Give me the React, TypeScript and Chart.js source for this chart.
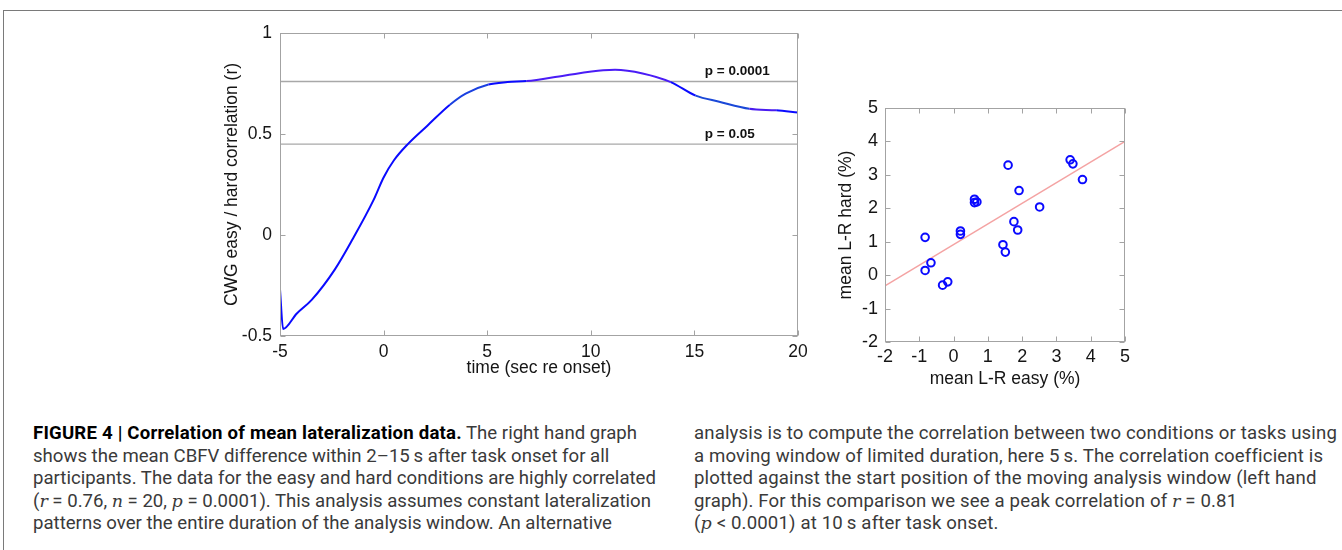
import React, { useEffect, useRef } from "react";
import { Chart, registerables } from "chart.js";

Chart.register(...registerables);

// Left graph: moving-window correlation between easy and hard conditions
const timeSec = [-5, -4.85, -4.2, -3.46, -2.35, -1.52, -0.5, 0, 0.5, 1.17, 2.1, 3.2, 3.96, 5.06, 5.98, 6.9, 8.76, 10.6, 11.17, 12.5, 13.86, 15.06, 16.2, 17.65, 18.95, 20];
const corrR = [-0.27, -0.465, -0.39, -0.32, -0.17, -0.025, 0.17, 0.285, 0.37, 0.45, 0.54, 0.645, 0.7, 0.745, 0.757, 0.762, 0.79, 0.815, 0.818, 0.8, 0.757, 0.69, 0.66, 0.625, 0.617, 0.607];
const timeTicks = [-5, 0, 5, 10, 15, 20];
const corrTicks = [-0.5, 0, 0.5, 1];
const thresholdR = [0.76, 0.45];
const thresholdLabels = ["p = 0.0001", "p = 0.05"];

// Right graph: mean L-R difference per participant, easy vs hard
const easyLR = [-0.83, -0.83, -0.66, -0.32, -0.17, 0.2, 0.2, 0.61, 0.61, 0.68, 1.44, 1.51, 1.59, 1.76, 1.87, 1.91, 2.51, 3.4, 3.48, 3.76];
const hardLR = [1.13, 0.14, 0.37, -0.3, -0.2, 1.32, 1.22, 2.27, 2.17, 2.19, 0.91, 0.69, 3.29, 1.6, 1.35, 2.53, 2.04, 3.45, 3.33, 2.86];
const fitEasy = [-2, 5];
const fitHard = [-0.32, 4.0];
const lrTicks = [-2, -1, 0, 1, 2, 3, 4, 5];

const AXIS_FONT = "'Liberation Sans', Arial, Helvetica, sans-serif";
const TEXT_COLOR = "#151515";

// The overlaid easy/hard traces blend into slightly tinted stretches of the blue line
function curveTint(ctx: any) {
  const x0 = ctx.p0.parsed.x;
  if (x0 >= 3.2 && x0 < 5.06) return "#1a40e0";
  if (x0 >= 6.9 && x0 < 13.86) return "#4a1cf6";
  if (x0 >= 15.06 && x0 < 17.65) return "#1a48d8";
  if (x0 >= 17.65 && x0 < 18.95) return "#4a1cf0";
  return undefined;
}

// MATLAB-style box around the plot area with inward tick marks on all four sides
const axesBox = {
  id: "axesBox",
  afterDatasetsDraw(chart: any) {
    const { ctx, chartArea: a, scales } = chart;
    const xs = scales.x;
    const ys = scales.y;
    const L = Math.round(a.left) + 0.5;
    const R = Math.round(a.right) - 0.5;
    const T = Math.round(a.top) + 0.5;
    const B = Math.round(a.bottom) - 0.5;
    const len = 5;
    ctx.save();
    ctx.strokeStyle = "#a3a3a3";
    ctx.lineWidth = 1;
    ctx.strokeRect(L, T, R - L, B - T);
    ctx.beginPath();
    xs.ticks.forEach((t: any) => {
      const p = Math.round(xs.getPixelForValue(t.value)) + 0.5;
      ctx.moveTo(p, B);
      ctx.lineTo(p, B - len);
      ctx.moveTo(p, T);
      ctx.lineTo(p, T + len);
    });
    ys.ticks.forEach((t: any) => {
      const p = Math.round(ys.getPixelForValue(t.value)) + 0.5;
      ctx.moveTo(L, p);
      ctx.lineTo(L + len, p);
      ctx.moveTo(R, p);
      ctx.lineTo(R - len, p);
    });
    ctx.stroke();
    ctx.restore();
  },
};

// Significance labels sitting just above each threshold line
const thresholdText = {
  id: "thresholdText",
  afterDatasetsDraw(chart: any, _args: any, opts: any) {
    if (!opts || !opts.labels) return;
    const { ctx, scales } = chart;
    ctx.save();
    ctx.font = opts.font;
    ctx.fillStyle = opts.color;
    ctx.textAlign = "left";
    ctx.textBaseline = "bottom";
    opts.labels.forEach((lab: string, i: number) => {
      const x = scales.x.getPixelForValue(opts.atX);
      const y = scales.y.getPixelForValue(opts.values[i]) - opts.gap;
      ctx.fillText(lab, x, y);
    });
    ctx.restore();
  },
};

function setTicks(values: number[]) {
  return (scale: any) => {
    scale.ticks = values.map((v) => ({ value: v }));
  };
}

function ChartBox({ config, left, top, width, height }: any) {
  const ref = useRef<HTMLCanvasElement>(null);
  useEffect(() => {
    const chart = new Chart(ref.current as HTMLCanvasElement, config);
    return () => chart.destroy();
  }, []);
  return (
    <div style={{ position: "absolute", left, top, width, height }}>
      <canvas ref={ref} width={width} height={height} style={{ display: "block", width, height }} />
    </div>
  );
}

function correlationConfig(): any {
  const lines = thresholdR.map((v) => ({
    type: "line",
    data: [
      { x: timeTicks[0], y: v },
      { x: timeTicks[timeTicks.length - 1], y: v },
    ],
    borderColor: "#a8a8a8",
    borderWidth: 1.3,
    pointRadius: 0,
    order: 2,
  }));
  return {
    type: "line",
    data: {
      datasets: [
        {
          data: timeSec.map((t, i) => ({ x: t, y: corrR[i] })),
          borderColor: "#0a0aff",
          borderWidth: 2,
          pointRadius: 0,
          cubicInterpolationMode: "monotone",
          segment: { borderColor: curveTint },
          order: 0,
        },
        ...lines,
      ],
    },
    options: {
      responsive: false,
      animation: false,
      devicePixelRatio: 1,
      layout: { padding: { top: 13, right: 12, left: 3, bottom: 0 } },
      plugins: {
        legend: { display: false },
        tooltip: { enabled: false },
        thresholdText: {
          labels: thresholdLabels,
          values: thresholdR,
          atX: 15.5,
          gap: 3,
          font: `bold 13.5px ${AXIS_FONT}`,
          color: "#111",
        },
      },
      scales: {
        x: {
          type: "linear",
          min: timeTicks[0],
          max: timeTicks[timeTicks.length - 1],
          afterBuildTicks: setTicks(timeTicks),
          afterFit: (s: any) => {
            s.height = 42;
          },
          grid: { display: false },
          border: { display: false },
          ticks: {
            font: { family: AXIS_FONT, size: 17.5, lineHeight: 1 },
            color: TEXT_COLOR,
            padding: -1,
            maxRotation: 0,
            callback: (v: any) => String(v),
          },
          title: {
            display: true,
            text: "time (sec re onset)",
            font: { family: AXIS_FONT, size: 17.5, lineHeight: 1.1 },
            color: TEXT_COLOR,
            padding: { top: 0, bottom: 0 },
          },
        },
        y: {
          type: "linear",
          min: corrTicks[0],
          max: corrTicks[corrTicks.length - 1],
          afterBuildTicks: setTicks(corrTicks),
          afterFit: (s: any) => {
            s.width = 57;
          },
          grid: { display: false },
          border: { display: false },
          ticks: {
            font: { family: AXIS_FONT, size: 17.5 },
            color: TEXT_COLOR,
            padding: 0,
            callback: (v: any) => String(v),
          },
          title: {
            display: true,
            text: "CWG easy / hard correlation (r)",
            font: { family: AXIS_FONT, size: 17.5, lineHeight: 1.1 },
            color: TEXT_COLOR,
            padding: { top: 0, bottom: 0 },
          },
        },
      },
    },
    plugins: [axesBox, thresholdText],
  };
}

function scatterConfig(): any {
  return {
    type: "scatter",
    data: {
      datasets: [
        {
          data: easyLR.map((e, i) => ({ x: e, y: hardLR[i] })),
          pointRadius: 3.8,
          pointBorderWidth: 2,
          borderColor: "#0a0aff",
          backgroundColor: "rgba(0,0,0,0)",
          order: 0,
        },
        {
          data: fitEasy.map((e, i) => ({ x: e, y: fitHard[i] })),
          showLine: true,
          borderColor: "#f4a3a3",
          borderWidth: 1.3,
          pointRadius: 0,
          order: 1,
        },
      ],
    },
    options: {
      responsive: false,
      animation: false,
      devicePixelRatio: 1,
      layout: { padding: { top: 12, right: 12, left: 3, bottom: 0 } },
      plugins: { legend: { display: false }, tooltip: { enabled: false } },
      scales: {
        x: {
          type: "linear",
          min: lrTicks[0],
          max: lrTicks[lrTicks.length - 1],
          afterBuildTicks: setTicks(lrTicks),
          afterFit: (s: any) => {
            s.height = 47;
          },
          grid: { display: false },
          border: { display: false },
          ticks: {
            font: { family: AXIS_FONT, size: 18, lineHeight: 1 },
            color: TEXT_COLOR,
            padding: -2,
            maxRotation: 0,
            callback: (v: any) => String(v),
          },
          title: {
            display: true,
            text: "mean L-R easy (%)",
            font: { family: AXIS_FONT, size: 17.5, lineHeight: 1.1 },
            color: TEXT_COLOR,
            padding: { top: 0, bottom: 0 },
          },
        },
        y: {
          type: "linear",
          min: lrTicks[0],
          max: lrTicks[lrTicks.length - 1],
          afterBuildTicks: setTicks(lrTicks),
          afterFit: (s: any) => {
            s.width = 48;
          },
          grid: { display: false },
          border: { display: false },
          ticks: {
            font: { family: AXIS_FONT, size: 18 },
            color: TEXT_COLOR,
            padding: -1,
            callback: (v: any) => String(v),
          },
          title: {
            display: true,
            text: "mean L-R hard (%)",
            font: { family: AXIS_FONT, size: 17.5, lineHeight: 1.1 },
            color: TEXT_COLOR,
            padding: { top: 0, bottom: 0 },
          },
        },
      },
    },
    plugins: [axesBox],
  };
}

const captionStyle: React.CSSProperties = {
  position: "absolute",
  top: 422,
  fontFamily: "Roboto, 'Liberation Sans', Arial, sans-serif",
  fontSize: 18.6,
  lineHeight: "22.6px",
  color: "#3a3a3a",
  whiteSpace: "nowrap",
};

const it = (s: string) => <i style={{ fontFamily: "'DejaVu Serif', 'Liberation Serif', serif", fontSize: 17.5 }}>{s}</i>;

export default function App() {
  return (
    <div
      style={{
        position: "absolute",
        left: 0,
        top: 0,
        width: 1342,
        height: 550,
        background: "#fff",
        overflow: "hidden",
      }}
    >
      <div
        style={{
          position: "absolute",
          left: 3,
          top: 10,
          width: 1345,
          height: 545,
          borderTop: "1px solid #7a7a7a",
          borderLeft: "1px solid #7a7a7a",
        }}
      />
      <ChartBox config={correlationConfig()} left={220} top={20} width={590} height={358} />
      <ChartBox config={scatterConfig()} left={834} top={96} width={303} height={293} />

      <div style={{ ...captionStyle, left: 33 }}>
        <div>
          <b style={{ color: "#000", letterSpacing: 0.2 }}>FIGURE 4 | Correlation of mean lateralization data.</b> The right hand graph
        </div>
        <div>shows the mean CBFV difference within 2–15{"\u2009"}s after task onset for all</div>
        <div>participants. The data for the easy and hard conditions are highly correlated</div>
        <div>
          ({it("r")} = 0.76, {it("n")} = 20, {it("p")} = 0.0001). This analysis assumes constant lateralization
        </div>
        <div>patterns over the entire duration of the analysis window. An alternative</div>
      </div>

      <div style={{ ...captionStyle, left: 694, letterSpacing: 0.15 }}>
        <div>analysis is to compute the correlation between two conditions or tasks using</div>
        <div>a moving window of limited duration, here 5{"\u2009"}s. The correlation coefficient is</div>
        <div>plotted against the start position of the moving analysis window (left hand</div>
        <div>graph). For this comparison we see a peak correlation of {it("r")} = 0.81</div>
        <div>
          ({it("p")} &lt; 0.0001) at 10{"\u2009"}s after task onset.
        </div>
      </div>
    </div>
  );
}
